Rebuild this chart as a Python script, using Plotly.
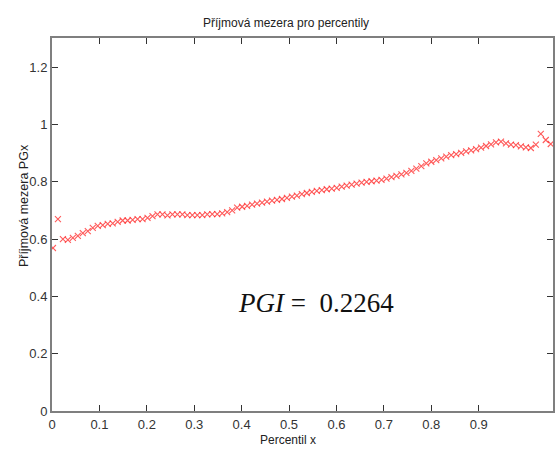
import plotly.graph_objects as go

# percentile index 0..100 and corresponding positions on the plotted axis
percentil = list(range(101))
x_vals = [0.002 + 0.0105 * p for p in percentil]

pg = [0.569, 0.670, 0.600, 0.597, 0.604, 0.611, 0.621, 0.628, 0.639, 0.646,
      0.649, 0.653, 0.655, 0.660, 0.665, 0.665, 0.667, 0.670, 0.670, 0.674,
      0.680, 0.686, 0.686, 0.683, 0.686, 0.686, 0.686, 0.684, 0.684, 0.684,
      0.684, 0.686, 0.687, 0.687, 0.690, 0.694, 0.700, 0.710, 0.713, 0.716,
      0.720, 0.724, 0.727, 0.731, 0.734, 0.737, 0.740, 0.744, 0.748, 0.752,
      0.757, 0.761, 0.765, 0.768, 0.771, 0.774, 0.776, 0.779, 0.783, 0.787,
      0.790, 0.794, 0.797, 0.800, 0.802, 0.804, 0.807, 0.811, 0.816, 0.821,
      0.826, 0.831, 0.838, 0.846, 0.855, 0.864, 0.870, 0.876, 0.882, 0.888,
      0.893, 0.897, 0.901, 0.906, 0.910, 0.914, 0.919, 0.925, 0.931, 0.938,
      0.940, 0.934, 0.930, 0.928, 0.924, 0.920, 0.918, 0.930, 0.967, 0.946,
      0.932]

x_ticks = [0, 0.1, 0.2, 0.3, 0.4, 0.5, 0.6, 0.7, 0.8, 0.9]
x_ticktext = ["0", "0.1", "0.2", "0.3", "0.4", "0.5", "0.6", "0.7", "0.8", "0.9"]
y_ticks = [0, 0.2, 0.4, 0.6, 0.8, 1.0, 1.2]
y_ticktext = ["0", "0.2", "0.4", "0.6", "0.8", "1", "1.2"]

FONT = "Liberation Sans, Arial, sans-serif"

fig = go.Figure()
fig.add_trace(go.Scatter(
    x=x_vals, y=pg, mode="markers",
    marker=dict(symbol="x-thin-open", size=6, color="rgba(255,20,20,0.7)",
                line=dict(color="rgba(255,20,20,0.7)", width=1.1)),
    showlegend=False, cliponaxis=True,
))

W, H = 555, 454
L, R, T, B = 52, 0, 38, 43
PW, PH = W - L - R, H - T - B
fig.update_layout(
    width=W, height=H,
    margin=dict(l=L, r=R, t=T, b=B, pad=0),
    paper_bgcolor="white", plot_bgcolor="white",
    font=dict(family=FONT, size=13, color="#222222"),
    xaxis=dict(range=[0, 503 / 476], tickvals=x_ticks, ticktext=x_ticktext,
               ticks="inside", ticklen=6, tickcolor="#333333", tickwidth=1,
               showline=True, linecolor="#7f7f7f", linewidth=2, mirror="ticks",
               showgrid=False, zeroline=False,
               tickfont=dict(family=FONT, size=13, color="#333333")),
    yaxis=dict(range=[0, 1.302], tickvals=y_ticks, ticktext=y_ticktext,
               ticks="inside", ticklen=6, tickcolor="#333333", tickwidth=1,
               showline=True, linecolor="#7f7f7f", linewidth=2, mirror="ticks",
               showgrid=False, zeroline=False,
               tickfont=dict(family=FONT, size=13, color="#333333")),
    annotations=[
        dict(text="Příjmová mezera pro percentily", xref="paper", yref="paper",
             x=(287 - L) / PW, y=1 + (T - 23) / PH,
             xanchor="center", yanchor="middle", showarrow=False,
             font=dict(family=FONT, size=12, color="#222222")),
        dict(text="Percentil x", xref="paper", yref="paper",
             x=(289 - L) / PW, y=-(440 - (H - B)) / PH,
             xanchor="center", yanchor="middle", showarrow=False,
             font=dict(family=FONT, size=12, color="#222222")),
        dict(text="Příjmová mezera PGx", xref="paper", yref="paper",
             x=-(L - 24) / PW, y=(H - B - 206) / PH,
             xanchor="center", yanchor="middle", showarrow=False, textangle=-90,
             font=dict(family=FONT, size=12.5, color="#222222")),
        dict(text="<i>PGI</i> = &nbsp;0.2264", xref="paper", yref="paper",
             x=(317 - L) / PW, y=(H - B - 303) / PH,
             xanchor="center", yanchor="middle", showarrow=False,
             font=dict(family="Liberation Serif, DejaVu Serif, serif", size=27, color="#111111")),
    ],
)

fig.write_html("out.html")
